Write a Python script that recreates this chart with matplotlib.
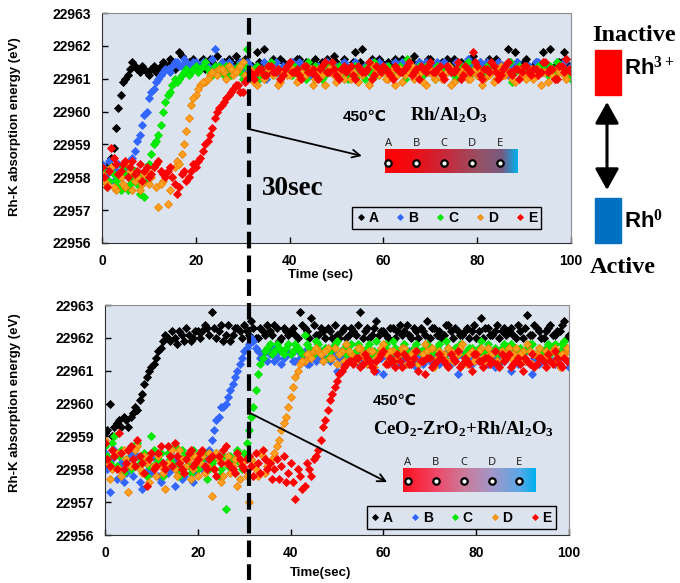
import numpy as np
import matplotlib
matplotlib.use('Agg')
import matplotlib.pyplot as plt
from matplotlib.colors import LinearSegmentedColormap
from matplotlib.lines import Line2D
from matplotlib.patches import Rectangle, FancyArrowPatch, ArrowStyle
from matplotlib.transforms import blended_transform_factory

plt.rcParams['font.family'] = ['Liberation Sans', 'DejaVu Sans']
plt.rcParams['font.weight'] = 'bold'
plt.rcParams['mathtext.fontset'] = 'custom'
plt.rcParams['mathtext.rm'] = 'Liberation Serif:bold'
plt.rcParams['mathtext.it'] = 'Liberation Serif:bold'
plt.rcParams['mathtext.bf'] = 'Liberation Serif:bold'

# energies are stored as eV above E0
# *_A .. *_E: readings at t = 0, 1, ..., 100 s
# *_half:     readings at t = 0.5, 1.5, ..., 99.5 s
E0 = 22950
positions = ['A', 'B', 'C', 'D', 'E']
face_colors = ['#000000', '#3366ff', '#00ee00', '#ffa020', '#ff0000']
edge_colors = ['#000000', '#3366ff', '#00e000', '#f08000', '#ff0000']
t_switch = 31.3  # gas switch time (s)

# Rh/Al2O3
top_A = [8.3, 8.2, 8.6, 9.5, 10.5, 11.0, 11.3, 11.4, 11.2, 11.3,
         11.1, 11.4, 11.3, 11.5, 11.4, 11.5, 11.4, 11.7, 11.5, 11.4,
         11.4, 11.5, 11.3, 11.6, 11.4, 11.3, 11.5, 11.6, 11.4, 11.5,
         11.3, 11.5, 11.4, 11.8, 11.4, 11.3, 11.2, 11.5, 11.6, 11.4,
         11.5, 11.3, 11.6, 11.4, 11.2, 11.5, 11.4, 11.5, 11.6, 11.3,
         11.5, 11.2, 11.4, 11.3, 11.8, 11.5, 11.3, 11.4, 11.2, 11.6,
         11.4, 11.5, 11.3, 11.4, 11.6, 11.2, 11.5, 11.3, 11.4, 11.3,
         11.6, 11.4, 11.2, 11.3, 11.5, 11.6, 11.3, 11.4, 11.3, 11.7,
         11.4, 11.3, 11.5, 11.2, 11.6, 11.4, 11.3, 11.5, 11.8, 11.3,
         11.5, 11.2, 11.4, 11.3, 11.8, 11.4, 11.3, 11.2, 11.5, 11.6,
         11.4]
top_A_half = [8.1, 8.4, 8.9, 10.1, 10.9, 11.1, 11.5, 11.3, 11.4, 11.2,
              11.3, 11.2, 11.4, 11.3, 11.6, 11.3, 11.8, 11.4, 11.5, 11.6,
              11.3, 11.6, 11.4, 11.5, 11.7, 11.4, 11.3, 11.5, 11.7, 11.3,
              11.6, 11.4, 11.3, 11.5, 11.9, 11.4, 11.6, 11.3, 11.5, 11.4,
              11.3, 11.6, 11.4, 11.5, 11.3, 11.6, 11.4, 11.3, 11.5, 11.7,
              11.4, 11.6, 11.3, 11.5, 11.4, 11.9, 11.3, 11.6, 11.4, 11.5,
              11.3, 11.4, 11.6, 11.5, 11.3, 11.4, 11.7, 11.5, 11.3, 11.6,
              11.4, 11.3, 11.5, 11.6, 11.4, 11.3, 11.5, 11.4, 11.6, 11.3,
              11.5, 11.4, 11.6, 11.3, 11.5, 11.4, 11.9, 11.3, 11.5, 11.4,
              11.6, 11.3, 11.5, 11.4, 11.3, 11.9, 11.4, 11.5, 11.8, 11.4]
top_B = [8.4, 8.1, 8.3, 8.2, 8.0, 8.3, 8.5, 8.8, 9.3, 9.9,
         10.4, 10.7, 11.0, 11.2, 11.3, 11.4, 11.5, 11.4, 11.5, 11.4,
         11.5, 11.4, 11.5, 11.3, 11.9, 11.4, 11.3, 11.5, 11.2, 11.4,
         11.3, 11.5, 11.2, 11.4, 11.3, 11.0, 11.4, 11.5, 11.3, 11.2,
         11.4, 11.3, 11.5, 11.4, 11.2, 11.3, 11.4, 11.1, 11.5, 11.3,
         11.4, 11.2, 11.4, 11.3, 11.5, 11.3, 11.4, 11.2, 11.3, 11.5,
         11.4, 11.3, 11.2, 11.4, 11.5, 11.3, 11.1, 11.4, 11.3, 11.5,
         11.2, 11.4, 11.3, 11.5, 11.4, 11.2, 11.3, 11.4, 11.6, 11.3,
         11.2, 11.4, 11.5, 11.3, 11.4, 11.2, 11.3, 11.5, 11.4, 11.3,
         11.1, 11.4, 11.3, 11.5, 11.2, 11.4, 11.3, 11.5, 11.4, 11.2,
         11.4]
top_B_half = [8.2, 8.5, 7.9, 8.4, 8.2, 8.1, 8.6, 9.1, 9.6, 10.0,
              10.6, 10.9, 11.1, 11.3, 11.2, 11.5, 11.4, 11.6, 11.3, 11.5,
              11.3, 11.5, 11.4, 11.6, 11.3, 11.5, 11.2, 11.4, 11.3, 11.5,
              11.2, 11.4, 11.3, 11.1, 11.5, 11.3, 11.4, 11.2, 11.4, 11.3,
              11.5, 11.2, 11.3, 11.4, 11.1, 11.4, 11.3, 11.5, 11.2, 11.4,
              11.3, 11.5, 11.2, 11.4, 11.3, 11.1, 11.4, 11.5, 11.3, 11.2,
              11.4, 11.2, 11.5, 11.3, 11.4, 11.2, 11.3, 11.5, 11.1, 11.4,
              11.3, 11.5, 11.4, 11.2, 11.3, 11.5, 11.4, 11.2, 11.4, 11.3,
              11.5, 11.2, 11.4, 11.3, 11.5, 11.4, 11.1, 11.3, 11.5, 11.2,
              11.4, 11.3, 11.5, 11.2, 11.4, 11.3, 11.2, 11.4, 11.5, 11.3]
top_C = [8.0, 7.7, 8.3, 7.9, 7.6, 8.1, 7.8, 8.2, 7.5, 7.4,
         8.4, 9.0, 9.3, 10.0, 10.5, 10.8, 10.9, 11.1, 11.3, 11.2,
         11.4, 11.3, 11.5, 11.2, 11.4, 11.4, 11.1, 11.3, 11.2, 11.4,
         11.0, 11.9, 11.2, 11.4, 11.1, 11.3, 11.5, 11.2, 11.0, 11.3,
         11.2, 11.4, 11.1, 11.3, 11.5, 11.2, 11.3, 11.0, 11.4, 11.2,
         11.3, 11.1, 11.3, 11.2, 11.4, 11.3, 11.0, 11.2, 11.5, 11.3,
         11.2, 11.4, 11.1, 11.3, 11.2, 11.6, 11.3, 11.1, 11.2, 11.4,
         11.3, 11.0, 11.3, 11.2, 11.4, 11.1, 11.3, 11.2, 11.5, 11.3,
         11.1, 11.2, 11.4, 11.3, 11.0, 11.2, 11.3, 11.5, 11.2, 11.4,
         11.1, 11.3, 11.2, 11.4, 11.3, 11.1, 11.2, 11.5, 11.3, 11.2,
         11.0]
top_C_half = [8.2, 7.9, 8.1, 7.7, 8.3, 7.6, 8.0, 7.8, 8.1, 7.9,
              8.7, 9.1, 9.6, 10.3, 10.6, 11.0, 11.0, 11.2, 11.1, 11.3,
              11.2, 11.4, 11.3, 11.1, 11.3, 11.2, 11.4, 11.1, 11.3, 11.2,
              11.4, 11.1, 11.3, 11.0, 11.2, 11.4, 11.1, 11.3, 11.2, 11.4,
              11.1, 11.3, 11.2, 11.0, 11.3, 11.4, 11.2, 11.1, 11.3, 11.2,
              11.4, 11.2, 11.0, 11.3, 11.1, 11.2, 11.4, 11.3, 11.1, 11.2,
              11.3, 11.1, 11.2, 11.4, 11.0, 11.3, 11.2, 11.4, 11.1, 11.3,
              11.2, 11.4, 11.1, 11.3, 11.2, 11.0, 11.4, 11.3, 11.1, 11.2,
              11.3, 11.1, 11.2, 11.4, 11.3, 11.1, 11.2, 10.9, 11.3, 11.2,
              11.4, 11.2, 11.1, 11.3, 11.2, 11.4, 11.1, 11.3, 11.2, 11.1]
top_D = [8.1, 7.8, 8.3, 7.6, 8.0, 7.7, 8.2, 7.9, 7.6, 8.1,
         7.8, 8.3, 7.1, 7.9, 7.2, 8.0, 8.5, 8.7, 9.4, 10.2,
         10.5, 10.8, 10.9, 11.1, 11.2, 11.3, 11.2, 11.4, 11.1, 11.3,
         11.5, 11.0, 11.2, 10.8, 11.3, 11.1, 11.4, 11.2, 10.9, 11.3,
         11.1, 11.2, 11.0, 11.4, 11.2, 10.8, 11.3, 11.1, 11.2, 11.4,
         10.9, 11.2, 11.3, 11.0, 11.1, 11.3, 11.2, 10.8, 11.4, 11.1,
         11.2, 11.0, 11.3, 11.1, 10.9, 11.2, 11.4, 11.1, 11.2, 10.8,
         11.3, 11.0, 11.2, 11.1, 11.4, 10.9, 11.2, 11.3, 11.0, 11.2,
         11.1, 10.8, 11.3, 11.2, 11.0, 11.4, 11.1, 11.2, 10.9, 11.3,
         11.1, 11.2, 11.0, 11.3, 11.2, 10.9, 11.1, 11.3, 11.2, 11.0,
         11.2]
top_D_half = [7.9, 8.2, 7.7, 8.1, 7.8, 8.4, 7.6, 8.0, 7.8, 8.2,
              8.0, 7.7, 7.8, 8.1, 7.6, 8.3, 8.4, 9.0, 9.8, 10.4,
              10.7, 10.9, 11.0, 11.2, 11.1, 11.3, 11.0, 11.3, 11.2, 11.4,
              11.1, 11.3, 10.9, 11.2, 11.0, 11.3, 11.1, 10.8, 11.2, 11.1,
              11.3, 10.9, 11.2, 11.1, 11.3, 11.0, 11.2, 10.8, 11.3, 11.1,
              11.2, 11.0, 11.3, 11.2, 10.9, 11.1, 11.3, 11.0, 11.2, 11.3,
              11.0, 11.2, 10.8, 11.3, 11.1, 11.2, 11.0, 11.3, 10.9, 11.2,
              11.1, 11.3, 11.0, 11.2, 10.8, 11.3, 11.1, 11.2, 11.0, 11.3,
              11.2, 11.0, 11.1, 10.9, 11.3, 11.1, 11.2, 11.0, 11.3, 11.1,
              11.0, 11.3, 11.1, 10.8, 11.2, 11.3, 11.0, 11.2, 11.1, 11.3]
top_E = [8.3, 7.7, 8.9, 8.4, 8.2, 8.5, 8.3, 8.1, 8.4, 8.2,
         8.0, 8.3, 8.5, 8.1, 8.2, 8.0, 7.5, 8.1, 7.9, 8.2,
         8.3, 8.6, 9.0, 9.3, 9.8, 10.1, 10.3, 10.5, 10.7, 10.8,
         10.6, 11.0, 11.1, 11.2, 11.3, 11.1, 11.4, 11.2, 11.0, 11.3,
         11.5, 11.2, 11.1, 11.4, 11.2, 11.3, 11.0, 11.4, 11.2, 11.5,
         11.1, 11.3, 11.2, 11.4, 11.0, 11.3, 11.2, 11.5, 11.1, 11.3,
         11.4, 11.2, 11.0, 11.3, 11.2, 11.4, 11.1, 11.3, 11.4, 11.2,
         11.5, 11.2, 11.4, 11.0, 11.3, 11.2, 11.5, 11.1, 11.3, 11.8,
         11.4, 11.0, 11.3, 11.5, 11.2, 11.1, 11.4, 11.2, 11.3, 11.0,
         11.4, 11.2, 11.3, 11.1, 11.5, 11.2, 11.3, 11.0, 11.4, 11.6,
         11.2]
top_E_half = [8.0, 8.2, 8.6, 8.1, 8.4, 8.0, 8.5, 8.2, 7.9, 8.3,
              8.1, 8.4, 8.2, 8.0, 8.3, 7.8, 7.7, 8.2, 8.0, 8.4,
              8.5, 8.8, 9.1, 9.5, 10.0, 10.2, 10.4, 10.6, 10.8, 10.6,
              10.9, 11.2, 11.0, 11.3, 11.1, 11.4, 11.2, 11.3, 11.1, 11.4,
              11.2, 11.3, 11.0, 11.4, 11.2, 11.1, 11.3, 11.5, 11.2, 11.3,
              11.0, 11.4, 11.3, 11.1, 11.4, 11.2, 11.3, 11.0, 11.4, 11.2,
              11.3, 11.1, 11.4, 11.2, 11.3, 11.5, 11.2, 11.0, 11.3, 11.4,
              11.2, 11.3, 11.1, 11.4, 11.2, 11.3, 11.0, 11.4, 11.2, 11.5,
              11.1, 11.3, 11.2, 11.4, 11.0, 11.3, 11.5, 11.1, 11.3, 11.2,
              11.4, 11.1, 11.3, 11.2, 11.5, 11.3, 11.0, 11.4, 11.2, 11.3]

# CeO2-ZrO2 + Rh/Al2O3
bot_A = [9.1, 10.0, 9.3, 9.5, 9.6, 9.3, 9.7, 9.8, 10.3, 10.8,
         11.1, 11.4, 11.7, 12.1, 11.9, 12.0, 12.2, 11.9, 12.1, 12.0,
         12.2, 12.2, 12.3, 12.8, 12.0, 12.4, 12.1, 11.9, 12.3, 12.2,
         12.4, 12.1, 12.3, 12.0, 12.2, 12.4, 12.1, 12.3, 12.0, 12.2,
         12.2, 12.1, 12.8, 12.3, 12.0, 12.4, 12.1, 12.2, 12.3, 12.0,
         12.1, 12.2, 12.0, 12.3, 12.1, 12.8, 12.2, 12.0, 12.3, 12.1,
         12.2, 12.0, 12.3, 12.2, 12.1, 12.4, 12.0, 12.2, 12.3, 12.1,
         12.0, 12.3, 12.2, 12.1, 12.4, 12.0, 12.2, 12.1, 12.3, 12.2,
         12.0, 12.6, 12.3, 12.1, 12.2, 12.0, 12.3, 12.2, 12.1, 12.4,
         12.0, 12.7, 12.1, 12.3, 12.0, 12.2, 12.4, 12.1, 12.2, 12.5,
         12.1]
bot_A_half = [9.2, 9.0, 9.4, 9.3, 9.5, 9.6, 9.9, 10.1, 10.6, 11.0,
              11.2, 11.6, 11.9, 12.0, 12.2, 11.8, 12.1, 12.3, 11.9, 12.2,
              12.0, 12.4, 12.1, 12.3, 12.2, 11.9, 12.4, 12.1, 12.3, 12.0,
              12.2, 12.5, 12.0, 12.3, 12.1, 12.2, 12.4, 11.9, 12.3, 12.1,
              12.3, 12.0, 12.4, 12.2, 12.6, 12.1, 12.3, 12.0, 12.2, 12.4,
              12.0, 12.3, 12.1, 12.2, 12.4, 12.0, 12.3, 12.1, 12.5, 12.2,
              12.1, 12.3, 12.0, 12.4, 12.2, 12.1, 12.3, 12.0, 12.2, 12.5,
              12.3, 12.1, 12.0, 12.4, 12.2, 12.3, 12.1, 12.2, 12.0, 12.4,
              12.2, 12.0, 12.3, 12.1, 12.4, 12.2, 12.1, 12.3, 12.0, 12.2,
              12.3, 12.1, 12.4, 12.2, 12.0, 12.3, 12.1, 12.2, 12.4, 12.0]
bot_B = [8.5, 7.3, 8.6, 8.0, 7.6, 8.3, 7.8, 8.4, 7.4, 8.2,
         7.9, 8.3, 7.6, 8.1, 8.5, 7.5, 8.2, 7.8, 8.3, 7.6,
         8.4, 8.0, 8.3, 8.9, 9.5, 9.9, 10.0, 10.4, 10.8, 11.2,
         11.6, 11.8, 11.9, 11.6, 11.5, 11.3, 11.7, 11.4, 11.2, 11.6,
         11.5, 11.3, 11.4, 11.6, 11.2, 11.5, 11.4, 11.3, 11.7, 11.5,
         11.0, 11.4, 11.6, 11.3, 11.5, 11.2, 11.4, 11.6, 11.3, 11.5,
         10.9, 11.4, 11.2, 11.6, 11.4, 11.3, 11.5, 11.1, 11.4, 11.6,
         11.3, 11.5, 11.2, 11.4, 11.6, 11.3, 10.9, 11.5, 11.4, 11.2,
         11.6, 11.3, 11.5, 11.4, 11.1, 11.5, 11.3, 11.6, 11.4, 11.2,
         11.5, 11.3, 10.9, 11.4, 11.6, 11.3, 11.5, 11.2, 11.4, 11.6,
         11.1]
bot_B_half = [8.0, 8.3, 7.7, 8.2, 7.9, 8.5, 8.1, 7.6, 8.3, 8.0,
              8.4, 7.8, 8.2, 7.9, 8.0, 8.3, 7.7, 8.1, 8.4, 7.9,
              8.2, 8.4, 8.6, 9.2, 9.6, 9.9, 10.2, 10.6, 11.0, 11.4,
              11.7, 12.0, 11.7, 11.4, 11.6, 11.5, 11.3, 11.6, 11.4, 11.5,
              11.3, 11.6, 11.4, 11.2, 11.5, 11.3, 11.6, 11.4, 11.3, 11.5,
              11.4, 11.2, 11.5, 11.3, 11.6, 11.4, 11.3, 11.5, 11.0, 11.4,
              11.5, 11.3, 11.4, 11.2, 11.5, 11.6, 11.3, 11.4, 11.2, 11.5,
              11.4, 11.6, 11.3, 11.5, 11.2, 11.4, 11.5, 11.3, 11.6, 11.4,
              11.3, 11.5, 11.2, 11.6, 11.4, 11.3, 11.5, 11.0, 11.4, 11.5,
              11.3, 11.6, 11.4, 11.2, 11.5, 11.4, 11.3, 11.6, 11.5, 11.3]
bot_C = [8.7, 8.2, 9.0, 8.4, 7.9, 8.6, 8.1, 8.8, 8.3, 7.8,
         9.0, 8.2, 8.5, 8.0, 8.3, 8.7, 7.8, 8.4, 8.1, 8.6,
         8.0, 8.3, 7.7, 8.2, 8.5, 8.0, 6.8, 8.4, 7.9, 8.2,
         8.5, 9.2, 9.9, 10.9, 11.4, 11.7, 11.5, 11.8, 11.6, 11.7,
         11.5, 11.8, 11.6, 12.1, 11.7, 11.5, 11.8, 11.6, 11.4, 11.7,
         11.9, 11.6, 11.5, 11.8, 11.6, 11.7, 11.4, 11.8, 11.6, 11.5,
         11.7, 11.6, 11.9, 11.5, 11.7, 11.6, 11.4, 11.8, 11.6, 11.7,
         11.5, 11.6, 11.8, 11.4, 11.7, 11.6, 11.5, 11.8, 11.6, 11.7,
         11.5, 11.9, 11.6, 11.4, 11.7, 11.6, 11.8, 11.5, 11.7, 11.6,
         11.4, 11.7, 11.8, 11.5, 11.6, 11.7, 11.5, 11.8, 11.6, 11.9,
         11.6]
bot_C_half = [8.4, 8.8, 8.1, 8.6, 8.3, 8.0, 8.7, 8.2, 8.5, 8.1,
              8.6, 8.3, 7.8, 8.5, 8.2, 8.0, 8.6, 8.3, 7.9, 8.4,
              8.2, 8.5, 8.0, 8.3, 7.8, 8.4, 8.1, 8.3, 8.6, 8.0,
              8.8, 9.6, 10.4, 11.2, 11.6, 11.8, 11.6, 11.7, 11.5, 11.8,
              11.6, 11.7, 11.5, 11.8, 11.6, 11.9, 11.5, 11.7, 11.6, 11.8,
              11.5, 11.7, 11.6, 11.4, 11.8, 11.6, 11.7, 11.5, 11.9, 11.6,
              11.8, 11.5, 11.7, 11.6, 11.8, 11.4, 11.7, 11.6, 11.5, 11.8,
              11.6, 11.7, 11.5, 11.9, 11.6, 11.7, 11.8, 11.5, 11.7, 11.6,
              11.7, 11.5, 11.8, 11.6, 11.5, 11.7, 11.6, 11.8, 11.4, 11.7,
              11.6, 11.8, 11.5, 11.7, 11.6, 11.8, 11.7, 11.5, 11.8, 11.6]
bot_D = [8.9, 7.7, 8.4, 8.0, 8.6, 7.3, 8.3, 8.7, 7.9, 8.2,
         8.5, 7.8, 8.1, 7.4, 8.4, 8.0, 8.6, 7.9, 8.3, 8.0,
         7.8, 8.4, 8.1, 7.2, 8.5, 7.6, 8.2, 7.9, 8.3, 7.7,
         8.0, 7.0, 8.2, 7.8, 8.4, 8.1, 8.3, 8.7, 9.2, 9.6,
         10.2, 10.8, 11.2, 11.3, 11.5, 11.6, 11.6, 11.3, 11.7, 11.4,
         11.2, 11.6, 11.8, 11.5, 11.3, 11.7, 11.4, 11.6, 11.1, 11.5,
         11.8, 11.3, 11.6, 11.4, 11.7, 11.2, 11.5, 11.6, 11.3, 11.8,
         11.4, 11.1, 11.6, 11.5, 11.7, 11.3, 11.5, 11.8, 11.2, 11.6,
         11.4, 11.7, 11.3, 11.5, 11.6, 11.1, 11.4, 11.7, 11.5, 11.3,
         11.6, 11.8, 11.2, 11.5, 11.4, 11.6, 11.3, 11.7, 11.1, 11.5,
         11.6]
bot_D_half = [8.2, 8.0, 8.5, 7.8, 8.3, 8.1, 8.6, 8.0, 8.4, 7.6,
              8.1, 8.4, 7.9, 8.2, 8.6, 7.8, 8.3, 8.1, 7.7, 8.4,
              8.2, 7.9, 8.5, 8.0, 8.3, 7.8, 8.4, 8.1, 7.5, 8.2,
              7.8, 8.3, 8.0, 8.5, 7.9, 8.2, 8.5, 8.9, 9.4, 9.9,
              10.5, 11.0, 11.3, 11.5, 11.4, 11.7, 11.5, 11.6, 11.4, 11.7,
              11.5, 11.3, 11.6, 11.4, 11.7, 11.5, 11.2, 11.6, 11.4, 11.7,
              11.5, 11.6, 11.3, 11.5, 11.7, 11.4, 11.6, 11.2, 11.5, 11.6,
              11.7, 11.4, 11.5, 11.3, 11.6, 11.5, 11.7, 11.4, 11.5, 11.3,
              11.6, 11.4, 11.7, 11.5, 11.3, 11.6, 11.5, 11.4, 11.7, 11.5,
              11.3, 11.6, 11.5, 11.7, 11.4, 11.5, 11.6, 11.3, 11.5, 11.7]
bot_E = [8.8, 8.1, 8.4, 9.1, 8.0, 8.6, 8.3, 8.9, 8.2, 7.5,
         8.5, 8.1, 8.7, 8.0, 8.4, 8.8, 8.2, 7.9, 8.5, 8.1,
         8.3, 8.6, 8.0, 8.4, 7.8, 8.2, 8.7, 8.1, 7.9, 8.3,
         8.0, 8.4, 7.8, 8.2, 8.6, 8.0, 7.7, 8.3, 8.1, 7.6,
         8.2, 7.1, 7.8, 7.5, 8.0, 8.3, 8.6, 9.3, 9.8, 10.3,
         10.7, 11.0, 11.2, 11.3, 11.4, 11.1, 11.5, 11.3, 11.0, 11.4,
         11.6, 11.2, 11.3, 11.5, 11.1, 11.4, 11.2, 11.6, 11.3, 10.9,
         11.4, 11.2, 11.5, 11.3, 11.1, 11.4, 11.6, 11.2, 11.3, 11.0,
         11.5, 11.3, 11.4, 11.2, 11.6, 11.1, 11.3, 11.5, 11.2, 11.4,
         11.0, 11.3, 11.5, 11.2, 11.4, 11.1, 11.3, 11.6, 11.2, 11.4,
         11.3]
bot_E_half = [8.3, 8.6, 8.0, 8.5, 8.2, 8.7, 8.1, 8.4, 7.9, 8.3,
              8.0, 8.5, 8.2, 8.7, 8.1, 8.4, 8.0, 8.3, 8.6, 8.2,
              8.5, 8.1, 8.3, 8.0, 8.4, 8.6, 8.2, 8.0, 8.5, 8.1,
              8.3, 8.1, 8.5, 7.9, 8.3, 8.2, 8.0, 7.7, 8.4, 7.9,
              7.6, 8.0, 7.4, 8.2, 7.8, 8.4, 8.9, 9.5, 10.1, 10.5,
              10.9, 11.1, 11.3, 11.2, 11.4, 11.2, 11.4, 11.1, 11.3, 11.5,
              11.2, 11.4, 11.1, 11.3, 11.5, 11.2, 11.4, 11.0, 11.3, 11.4,
              11.1, 11.3, 11.4, 11.2, 11.5, 11.3, 11.1, 11.4, 11.2, 11.5,
              11.3, 11.1, 11.4, 11.3, 11.2, 11.5, 11.4, 11.1, 11.3, 11.2,
              11.4, 11.2, 11.1, 11.4, 11.3, 11.5, 11.2, 11.4, 11.1, 11.3]

bg = '#dbe3ef'
xticks = [0, 20, 40, 60, 80, 100]
yticks = [22956, 22957, 22958, 22959, 22960, 22961, 22962, 22963]

grad_top = LinearSegmentedColormap.from_list('grad_top', [
    (0.0, '#ff0000'), (0.2, '#f00c12'), (0.45, '#c8283a'),
    (0.7, '#985064'), (0.88, '#785a80'), (1.0, '#00b0f0')])
grad_bot = LinearSegmentedColormap.from_list('grad_bot', [
    (0.0, '#ff1020'), (0.25, '#ee4868'), (0.46, '#cc7a9a'),
    (0.67, '#a296c8'), (0.88, '#5aa8e8'), (1.0, '#00b0f0')])


def draw_panel(ax, whole, half, legend_at):
    ax.set_facecolor(bg)
    for name, v1, v2, fc, ec in zip(positions, whole, half, face_colors, edge_colors):
        t = np.concatenate([np.arange(len(v1)), np.arange(len(v2)) + 0.5])
        e = np.concatenate([v1, v2]) + E0
        ax.plot(t, e, ls='none', marker='D', ms=4.3,
                mfc=fc, mec=ec, mew=0.6, label=name)
    ax.set_xticks(xticks, labels=[str(v) for v in xticks])
    ax.set_yticks(yticks, labels=[str(v) for v in yticks])
    ax.tick_params(direction='in', length=4, width=1, pad=8, labelsize=10)
    for side in ['top', 'right']:
        ax.spines[side].set_color('#8c8c8c')
    for side in ['left', 'bottom']:
        ax.spines[side].set_color('#303030')
    leg = ax.legend(loc='center', bbox_to_anchor=legend_at, ncol=5,
                    frameon=True, fancybox=False, edgecolor='black',
                    facecolor=bg, framealpha=1, handlelength=0.6,
                    handletextpad=0.25, columnspacing=1.3, borderpad=0.3,
                    borderaxespad=0, markerscale=0.7,
                    prop={'weight': 'bold', 'size': 10})
    leg.get_frame().set_linewidth(1.0)


def draw_probe(ax, cmap, x0, x1, y0, y1, xs, yc, ylab):
    grad = np.linspace(0, 1, 256)[None, :]
    ax.imshow(grad, extent=[x0, x1, y0, y1], aspect='auto', cmap=cmap,
              interpolation='bilinear', zorder=3)
    ax.plot(xs, [yc] * len(xs), ls='none', marker='o', ms=4.6, mfc='white',
            mec='black', mew=1.6, zorder=4)
    for x, name in zip(xs, positions):
        ax.text(x, ylab, name, ha='center', va='center', fontsize=8,
                fontweight='normal', family='Noto Sans', color='#202020')


fig = plt.figure(figsize=(6.8, 5.83), dpi=100)
ax1 = fig.add_axes([0.150, 0.5832, 0.6897, 0.3945])
ax2 = fig.add_axes([0.1544, 0.0823, 0.6824, 0.3945])

draw_panel(ax1, [top_A, top_B, top_C, top_D, top_E],
           [top_A_half, top_B_half, top_C_half, top_D_half, top_E_half], (0.735, 0.109))
draw_panel(ax2, [bot_A, bot_B, bot_C, bot_D, bot_E],
           [bot_A_half, bot_B_half, bot_C_half, bot_D_half, bot_E_half], (0.768, 0.076))

draw_probe(ax1, grad_top, 60.3, 88.5, 22958.13, 22958.86,
           [61.0, 67.0, 72.9, 78.9, 84.9], 22958.44, 22959.04)
draw_probe(ax2, grad_bot, 64.2, 92.7, 22957.31, 22958.04,
           [65.3, 71.3, 77.4, 83.4, 89.2], 22957.64, 22958.22)

arrow_kw = dict(arrowstyle='->', lw=1.3, color='black', mutation_scale=14,
                shrinkA=0, shrinkB=0)
ax1.annotate('', xy=(55.4, 22958.65), xytext=(t_switch, 22959.47), arrowprops=arrow_kw)
ax2.annotate('', xy=(60.8, 22957.61), xytext=(t_switch, 22959.71), arrowprops=arrow_kw)

for ax in (ax1, ax2):
    ax.set_xlim(0, 100)
    ax.set_ylim(22956, 22963)

# panel annotations
ax1.text(0.514, 0.530, '450℃', transform=ax1.transAxes, fontsize=11, va='baseline')
ax1.text(0.657, 0.535, 'Rh/Al$_2$O$_3$', transform=ax1.transAxes, fontsize=13.5,
         family='Liberation Serif', va='baseline')
ax1.text(0.341, 0.209, '30sec', transform=ax1.transAxes, fontsize=19.5,
         family='Liberation Serif', va='baseline')
ax2.text(0.578, 0.565, '450℃', transform=ax2.transAxes, fontsize=11, va='baseline')
ax2.text(0.578, 0.439, 'CeO$_2$-ZrO$_2$+Rh/Al$_2$O$_3$', transform=ax2.transAxes,
         fontsize=13.5, family='Liberation Serif', va='baseline')

# axis titles
fig.text(320 / 680, 1 - 275 / 583, 'Time (sec)', ha='center', va='center', fontsize=9.5)
fig.text(321 / 680, 1 - 573 / 583, 'Time(sec)', ha='center', va='center', fontsize=9.5)
fig.text(15 / 680, 1 - 127 / 583, 'Rh-K absorption energy (eV)', rotation=90,
         ha='center', va='center', fontsize=9.5)
fig.text(15 / 680, 1 - 403 / 583, 'Rh-K absorption energy (eV)', rotation=90,
         ha='center', va='center', fontsize=9.5)

# switch time marker across both panels
trans = blended_transform_factory(ax1.transData, fig.transFigure)
fig.add_artist(Line2D([t_switch, t_switch], [1 - 18 / 583, 1 - 580 / 583],
                      transform=trans, color='black', lw=3,
                      ls=(0, (4, 1.7)), zorder=10))

# oxidation state key
fig.text(592 / 680, 1 - 41 / 583, 'Inactive', fontsize=17.5, family='Liberation Serif',
         va='baseline')
fig.text(590 / 680, 1 - 273 / 583, 'Active', fontsize=17.5, family='Liberation Serif',
         va='baseline')
fig.add_artist(Rectangle((595 / 680, 1 - 95 / 583), 26 / 680, 45 / 583,
                         transform=fig.transFigure, color='#ff0000'))
fig.add_artist(Rectangle((595 / 680, 1 - 243 / 583), 26 / 680, 45 / 583,
                         transform=fig.transFigure, color='#0070c0'))
fig.text(624 / 680, 1 - 75 / 583, 'Rh$^{3+}$', fontsize=16, va='baseline')
fig.text(624 / 680, 1 - 228 / 583, 'Rh$^{0}$', fontsize=16, va='baseline')
fig.add_artist(FancyArrowPatch((607 / 680, 1 - 102 / 583), (607 / 680, 1 - 190 / 583),
                               transform=fig.transFigure,
                               arrowstyle=ArrowStyle('<|-|>', head_length=0.52, head_width=0.29),
                               mutation_scale=25, lw=2.2, color='black',
                               shrinkA=0, shrinkB=0))

fig.savefig('out.png', dpi=100)
